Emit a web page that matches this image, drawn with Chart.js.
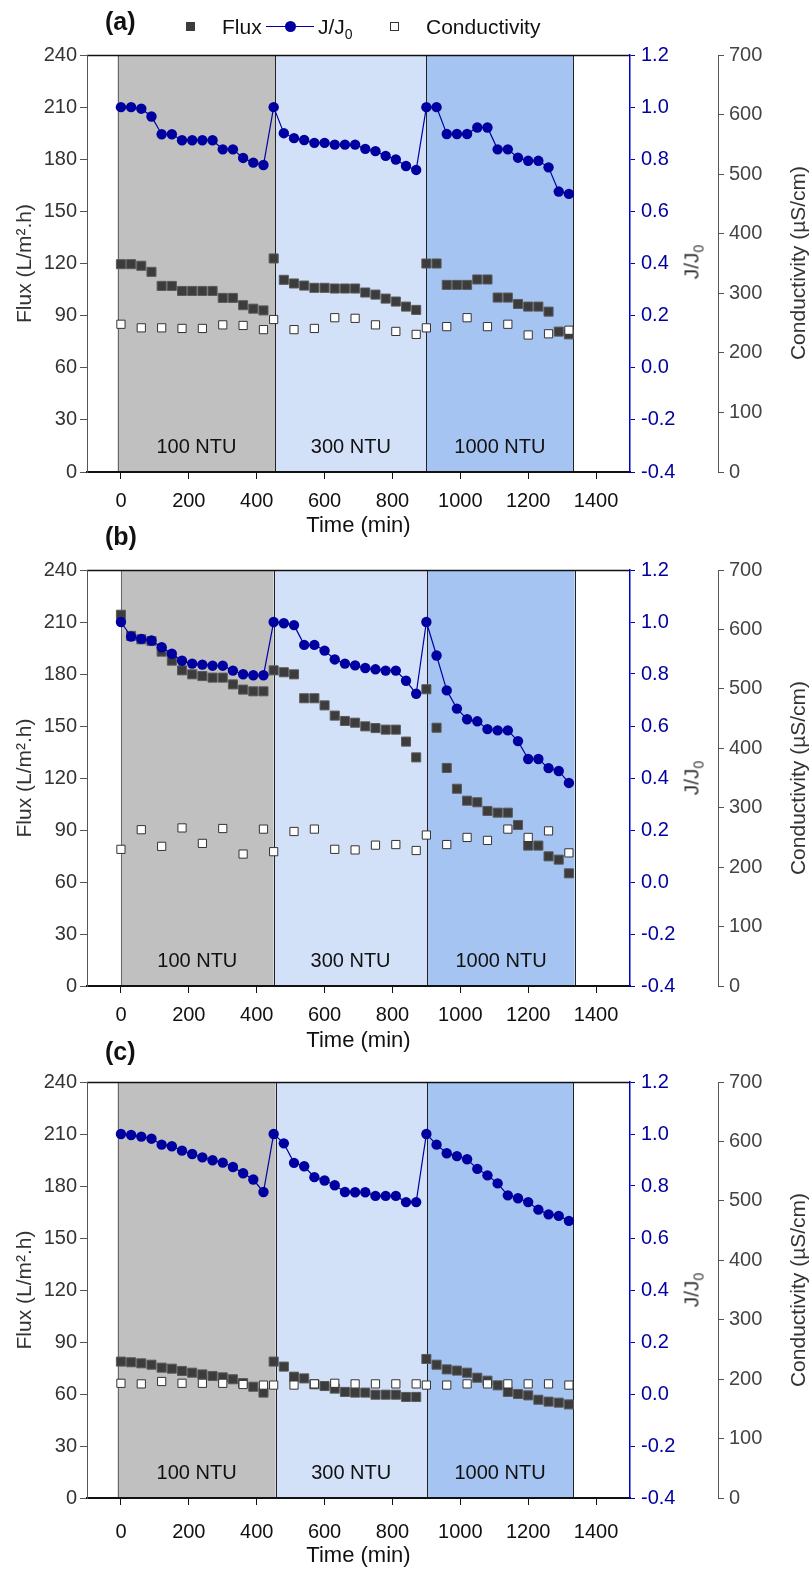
<!DOCTYPE html>
<html>
<head>
<meta charset="utf-8">
<script src="https://cdn.jsdelivr.net/npm/chart.js@4/dist/chart.umd.min.js"></script>
<style>
  body { margin: 0; background: #fff; font-family: "Liberation Sans", Arial, sans-serif; }
  #wrap { position: relative; width: 810px; height: 1569px; overflow: hidden; }
  canvas { position: absolute; left: 0; }
  .tag { position: absolute; font-weight: bold; font-size: 25px; color: #111; line-height: 1; }
  .leg { position: absolute; font-size: 21px; color: #111; line-height: 1; }
  .vtitle { position: absolute; font-size: 21px; color: #333; white-space: nowrap;
            transform: translate(-50%, -50%) rotate(-90deg); line-height: 1; }
  sub { font-size: 14px; vertical-align: -5px; }
</style>
</head>
<body>
<div id="wrap">
  <canvas id="chartA"></canvas>
  <canvas id="chartB"></canvas>
  <canvas id="chartC"></canvas>

  <div class="tag" style="left:105px;top:9px">(a)</div>
  <div class="tag" style="left:105px;top:524px">(b)</div>
  <div class="tag" style="left:105px;top:1039px">(c)</div>

  <!-- legend -->
  <div style="position:absolute;left:186px;top:22px;width:9px;height:9px;background:#3c3c3c"></div>
  <div class="leg" style="left:222px;top:16px">Flux</div>
  <div style="position:absolute;left:266px;top:26px;width:48px;height:1px;background:#0000a0"></div>
  <div style="position:absolute;left:285px;top:21px;width:11px;height:11px;border-radius:50%;background:#0000a0"></div>
  <div class="leg" style="left:318px;top:16px">J/J<sub>0</sub></div>
  <div style="position:absolute;left:390px;top:22px;width:7px;height:7px;border:1px solid #333;background:#fff"></div>
  <div class="leg" style="left:426px;top:16px">Conductivity</div>

  <div class="vtitle" style="left:693px;top:262px">J/J<sub>0</sub></div>
  <div class="vtitle" style="left:693px;top:778px">J/J<sub>0</sub></div>
  <div class="vtitle" style="left:693px;top:1290px">J/J<sub>0</sub></div>

  <div class="vtitle" style="left:797px;top:263px">Conductivity (&micro;S/cm)</div>
  <div class="vtitle" style="left:797px;top:778px">Conductivity (&micro;S/cm)</div>
  <div class="vtitle" style="left:797px;top:1290px">Conductivity (&micro;S/cm)</div>
</div>

<script>
// sampling times (min)
const timeJ = [0, 30, 60, 90, 120, 150, 180, 210, 240, 270, 300, 330, 360, 390, 420,
               450, 480, 510, 540, 570, 600, 630, 660, 690, 720, 750, 780, 810, 840, 870,
               900, 930, 960, 990, 1020, 1050, 1080, 1110, 1140, 1170, 1200, 1230, 1260, 1290, 1320];
const timeCond = [0, 60, 120, 180, 240, 300, 360, 420,
                  450, 510, 570, 630, 690, 750, 810, 870,
                  900, 960, 1020, 1080, 1140, 1200, 1260, 1320];

// (a)
const fluxA = [119.6, 119.6, 118.7, 115.2, 107.1, 107.1, 104.2, 104.2, 104.2, 104.2, 100.2, 100.2, 96, 94, 93,
               122.9, 110.6, 108.5, 107.3, 106, 106, 105.6, 105.6, 105.6, 103.3, 102.1, 99.8, 98.1, 95.2, 93.3,
               120, 120, 107.7, 107.7, 107.7, 110.8, 110.8, 100.4, 100.4, 96.7, 95.2, 95.2, 92.3, 80.8, 79.2];
const jA = [1.0, 1.0, 0.994, 0.964, 0.896, 0.896, 0.873, 0.873, 0.873, 0.873, 0.838, 0.838, 0.805, 0.787, 0.778,
            1.0, 0.9, 0.881, 0.874, 0.863, 0.863, 0.856, 0.856, 0.856, 0.84, 0.831, 0.813, 0.799, 0.774, 0.759,
            1.0, 1.0, 0.897, 0.897, 0.897, 0.922, 0.922, 0.838, 0.838, 0.806, 0.794, 0.794, 0.769, 0.676, 0.667];
const condA = [248, 242, 242, 241, 241, 247, 246, 239,
               256, 239, 241, 259, 258, 247, 236, 231,
               242, 244, 259, 244, 248, 230, 232, 238];

// (b)
const fluxB = [214.2, 202, 200, 199, 192.9, 187.7, 182.1, 179.8, 178.8, 177.9, 177.9, 174, 171, 170, 170,
               182.1, 181, 179.8, 166, 166, 161.9, 156, 152.9, 151.9, 149.8, 148.8, 147.9, 147.9, 141, 131.9,
               171.2, 149, 125.8, 113.8, 106.9, 106, 101, 100, 100, 92.9, 81, 81, 74.8, 72.9, 65];
const jB = [1.0, 0.944, 0.935, 0.929, 0.903, 0.878, 0.851, 0.84, 0.836, 0.832, 0.832, 0.813, 0.799, 0.795, 0.795,
            1.0, 0.995, 0.988, 0.912, 0.912, 0.89, 0.856, 0.84, 0.833, 0.823, 0.818, 0.813, 0.813, 0.774, 0.724,
            1.0, 0.871, 0.737, 0.667, 0.626, 0.618, 0.588, 0.583, 0.583, 0.542, 0.473, 0.473, 0.438, 0.427, 0.381];
const condB = [230, 263, 235, 266, 240, 265, 222, 264,
               226, 260, 264, 230, 229, 237, 238, 228,
               254, 238, 250, 245, 264, 250, 261, 224];

// (c)
const fluxC = [78.7, 78.3, 77.7, 76.9, 75.2, 74.6, 73.3, 72.3, 71.3, 70.4, 69.6, 68.5, 66.3, 64.2, 60.8,
               78.7, 75.8, 70, 69, 65.6, 64.6, 63.1, 61.2, 60.8, 60.8, 59.6, 59.6, 59.6, 58.3, 58.3,
               80.2, 76.9, 74.2, 73.5, 72.3, 69.4, 67.7, 65, 61.2, 60, 59.2, 56.7, 55.6, 55, 54];
const jC = [1.0, 0.996, 0.99, 0.982, 0.959, 0.953, 0.936, 0.923, 0.91, 0.899, 0.89, 0.873, 0.849, 0.825, 0.777,
            1.0, 0.964, 0.889, 0.876, 0.834, 0.821, 0.803, 0.777, 0.776, 0.776, 0.762, 0.762, 0.762, 0.738, 0.738,
            1.0, 0.959, 0.926, 0.915, 0.903, 0.866, 0.841, 0.81, 0.764, 0.753, 0.738, 0.709, 0.691, 0.685, 0.666];
const condC = [193, 192, 196, 193, 193, 193, 191, 190,
               190, 190, 192, 193, 192, 192, 192, 192,
               190, 190, 192, 192, 192, 192, 192, 190];

// turbidity stages (min) and their labels
const bandsA = [-10, 455, 900, 1333];
const bandsB = [0, 450, 903, 1337];
const bandsC = [-10, 456, 901, 1333];
const bandLabels = ['100 NTU', '300 NTU', '1000 NTU'];

const xTicks = [0, 200, 400, 600, 800, 1000, 1200, 1400];

Chart.defaults.font.family = '"Liberation Sans", Arial, sans-serif';
Chart.defaults.font.size = 20;

const bandColors = ['#c0c0c0', '#d2e0f8', '#a6c4f2'];

const bandsPlugin = {
  id: 'bands',
  beforeDraw(chart) {
    const { ctx, chartArea: { top, bottom, left, right }, scales: { x } } = chart;
    const b = chart.options.plugins.bands.edges;
    ctx.save();
    for (let i = 0; i < 3; i++) {
      const x0 = x.getPixelForValue(b[i]);
      const x1 = x.getPixelForValue(b[i + 1]);
      ctx.fillStyle = bandColors[i];
      ctx.fillRect(x0, top, x1 - x0, bottom - top);
    }
    ctx.lineWidth = 1;
    b.forEach((v, i) => {
      const px = Math.round(x.getPixelForValue(v)) + 0.5;
      ctx.strokeStyle = i === 0 ? '#666' : '#222';
      ctx.beginPath();
      ctx.moveTo(px, top);
      ctx.lineTo(px, bottom);
      ctx.stroke();
    });
    ctx.fillStyle = '#111';
    ctx.font = '20px "Liberation Sans", Arial, sans-serif';
    ctx.textAlign = 'center';
    ctx.textBaseline = 'middle';
    for (let i = 0; i < 3; i++) {
      const cx = (x.getPixelForValue(b[i]) + x.getPixelForValue(b[i + 1])) / 2;
      ctx.fillText(bandLabels[i], cx, bottom - 25);
    }
    // top frame
    ctx.strokeStyle = '#111';
    ctx.lineWidth = 1.5;
    ctx.beginPath();
    ctx.moveTo(left, top + 0.5);
    ctx.lineTo(right, top + 0.5);
    ctx.stroke();
    ctx.restore();
  }
};

function pts(t, v) {
  return t.map((tt, i) => ({ x: tt, y: v[i] }));
}

function makeChart(id, canvasTop, plotTop, plotBottom, xPad, titlePad, flux, jj, cond, edges) {
  const cv = document.getElementById(id);
  const axisH = 73;
  const h = plotBottom - canvasTop + axisH;
  cv.width = 810;
  cv.height = h;
  cv.style.top = canvasTop + 'px';
  cv.style.width = '810px';
  cv.style.height = h + 'px';

  return new Chart(cv, {
    type: 'scatter',
    data: {
      datasets: [
        {
          label: 'J/J0',
          data: pts(timeJ, jj),
          yAxisID: 'yJ',
          showLine: true,
          borderColor: '#0000a0',
          borderWidth: 1.2,
          backgroundColor: '#0000a0',
          pointRadius: 5.2,
          pointBorderWidth: 0,
          order: 0
        },
        {
          label: 'Conductivity',
          data: pts(timeCond, cond),
          yAxisID: 'yC',
          pointStyle: 'rect',
          pointRadius: 5.8,
          backgroundColor: '#ffffff',
          borderColor: '#333',
          borderWidth: 1,
          order: 1
        },
        {
          label: 'Flux',
          data: pts(timeJ, flux),
          yAxisID: 'y',
          pointStyle: 'rect',
          pointRadius: 6.4,
          backgroundColor: '#3c3c3c',
          borderColor: '#5a5a5a',
          borderWidth: 1,
          order: 2
        }
      ]
    },
    options: {
      responsive: false,
      animation: false,
      events: [],
      layout: { padding: { top: plotTop - canvasTop, left: 0, right: 0, bottom: 0 } },
      plugins: {
        legend: { display: false },
        tooltip: { enabled: false },
        bands: { edges: edges }
      },
      scales: {
        x: {
          type: 'linear',
          position: 'bottom',
          min: -100,
          max: 1500,
          afterBuildTicks: s => { s.ticks = xTicks.map(v => ({ value: v })); },
          afterFit: s => { s.height = axisH; },
          ticks: { color: '#111', padding: xPad, maxRotation: 0, font: { size: 20 },
                   callback: v => String(v) },
          grid: { drawOnChartArea: false, tickLength: 7, color: '#111' },
          border: { color: '#111', width: 2 },
          title: { display: true, text: 'Time (min)', color: '#111', font: { size: 22 }, padding: { top: 0, bottom: titlePad } }
        },
        y: {
          position: 'left',
          min: 0,
          max: 240,
          ticks: { stepSize: 30, color: '#333', padding: 3, font: { size: 20 } },
          afterFit: s => { s.width = 87; },
          grid: { drawOnChartArea: false, tickLength: 7, color: '#555' },
          border: { color: '#555', width: 1 },
          title: { display: true, text: 'Flux (L/m\u00b2.h)', color: '#333', font: { size: 21 }, padding: { top: 13 } }
        },
        yJ: {
          position: 'right',
          weight: 1,
          min: -0.4,
          max: 1.2,
          ticks: { stepSize: 0.2, color: '#0000a0', padding: 6, font: { size: 20 },
                   callback: v => v.toFixed(1) },
          afterFit: s => { s.width = 88; },
          grid: { drawOnChartArea: false, tickLength: 5, color: '#0000c8' },
          border: { color: '#0000c8', width: 1.5 }
        },
        yC: {
          position: 'right',
          weight: 2,
          min: 0,
          max: 700,
          ticks: { stepSize: 100, color: '#444', padding: 5, font: { size: 20 } },
          afterFit: s => { s.width = 92; },
          grid: { drawOnChartArea: false, tickLength: 6, color: '#555' },
          border: { color: '#555', width: 1 }
        }
      }
    },
    plugins: [bandsPlugin]
  });
}

makeChart('chartA', 0, 55, 472, 10, 6, fluxA, jA, condA, bandsA);
makeChart('chartB', 530, 570, 986, 10, 5, fluxB, jB, condB, bandsB);
makeChart('chartC', 1050, 1082, 1498, 15, 2, fluxC, jC, condC, bandsC);
</script>
</body>
</html>
